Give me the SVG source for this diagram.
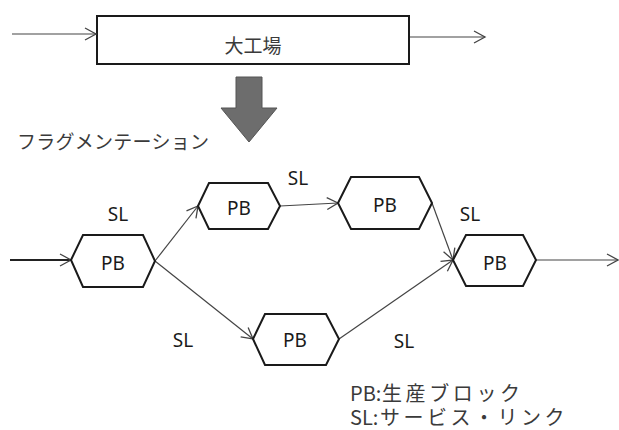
<svg xmlns="http://www.w3.org/2000/svg" width="619" height="430" viewBox="0 0 619 430">
<defs>
<style>
.hex{fill:#fff;stroke:#1a1a1a;stroke-width:2}
.lbl{font-family:"Noto Sans","Noto Sans CJK JP",sans-serif;font-size:19px;fill:#1a1a1a;text-anchor:middle}
.jp{font-family:"Noto Sans CJK JP","Noto Sans",sans-serif;fill:#3a3a3a}
.con{fill:none;stroke:#444;stroke-width:1.2}
</style>
<marker id="ah" markerUnits="userSpaceOnUse" markerWidth="14" markerHeight="14" refX="12" refY="7" orient="auto" viewBox="0 0 14 14">
<path d="M1,1 L12,7 L1,13" fill="none" stroke="#444" stroke-width="1.3"/>
</marker>
</defs>
<rect width="619" height="430" fill="#fff"/>
<g id="factory">
<rect x="97" y="16" width="312" height="48" fill="#fff" stroke="#1a1a1a" stroke-width="2"/>
<text x="253" y="53" class="jp" font-size="19" text-anchor="middle">大工場</text>
</g>
<g id="bigarrow">
<polygon points="236,77 262,77 262,108 277,108 249,142 221,108 236,108" fill="#6d6d6d" stroke="#555" stroke-width="1"/>
</g>
<g id="fragtext">
<text x="17" y="149" class="jp" font-size="19" textLength="192" lengthAdjust="spacing">フラグメンテーション</text>
</g>
<g id="connectors">
<line x1="12" y1="34" x2="96" y2="34" class="con" marker-end="url(#ah)"/>
<line x1="410" y1="37" x2="485" y2="37" class="con" marker-end="url(#ah)"/>
<line x1="10" y1="260" x2="71" y2="260" fill="none" stroke="#222" stroke-width="2" marker-end="url(#ah)"/>
<line x1="155" y1="261" x2="198" y2="206" class="con" marker-end="url(#ah)"/>
<line x1="155" y1="261" x2="253" y2="339" class="con" marker-end="url(#ah)"/>
<line x1="280" y1="206" x2="338" y2="203" class="con" marker-end="url(#ah)"/>
<line x1="432" y1="203" x2="453" y2="260" class="con" marker-end="url(#ah)"/>
<line x1="339" y1="339" x2="453" y2="260" class="con" marker-end="url(#ah)"/>
<line x1="536" y1="260" x2="618" y2="260" class="con" marker-end="url(#ah)"/>
</g>
<g id="pb1">
<polygon class="hex" points="71,260 83,235 143,235 155,261 143,287 83,287"/>
<text x="113" y="270" class="lbl">PB</text>
</g>
<g id="pb2">
<polygon class="hex" points="198,206 209,183 268,183 280,206 268,229 209,229"/>
<text x="239" y="215" class="lbl">PB</text>
</g>
<g id="pb3">
<polygon class="hex" points="338,203 351,177 419,177 432,203 419,229 351,229"/>
<text x="385" y="212" class="lbl">PB</text>
</g>
<g id="pb4">
<polygon class="hex" points="453,260 466,235 523,235 536,260 523,286 466,286"/>
<text x="495" y="270" class="lbl">PB</text>
</g>
<g id="pb5">
<polygon class="hex" points="253,339 265,314 326,314 339,339 326,365 265,365"/>
<text x="295" y="347" class="lbl">PB</text>
</g>
<g id="sl-labels">
<text x="118" y="221" class="lbl">SL</text>
<text x="298" y="185" class="lbl">SL</text>
<text x="470" y="221" class="lbl">SL</text>
<text x="183" y="347" class="lbl">SL</text>
<text x="404" y="348" class="lbl">SL</text>
</g>
<g id="legend">
<text x="350" y="401" class="jp" font-size="20">PB:<tspan x="382" letter-spacing="3.6">生産ブロック</tspan></text>
<text x="350" y="425" class="jp" font-size="20">SL:<tspan x="380" letter-spacing="3.5">サービス・リンク</tspan></text>
</g>
</svg>
